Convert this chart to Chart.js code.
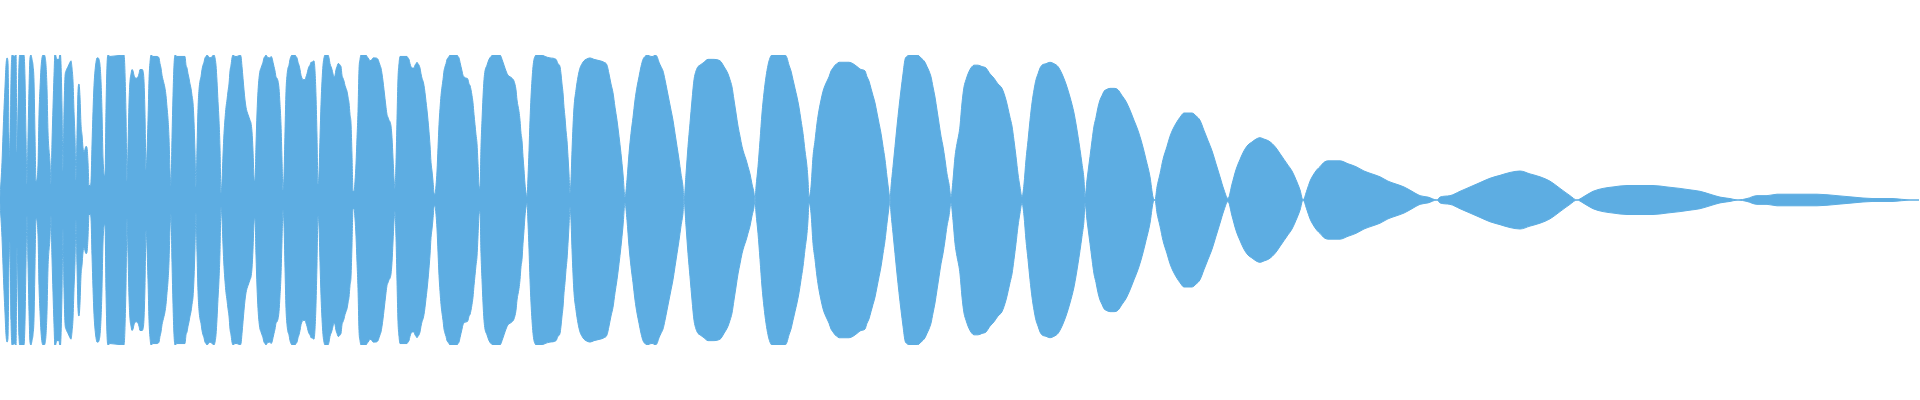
<!DOCTYPE html>
<html>
<head>
  <meta charset="utf-8">
  <title>Waveform</title>
  <script src="https://cdn.jsdelivr.net/npm/chart.js"></script>
  <style>
    html, body { margin: 0; padding: 0; background: #fff; }
    #wrap { width: 1920px; height: 400px; position: relative; }
  </style>
</head>
<body>
  <div id="wrap"><canvas id="wave"></canvas></div>

  <script>
    // sample position along the clip (10 per row, rows match envelope below)
    const t = [
      0,1,2,3,4,5,6,7,8,9,
      10,11,12,15,16,17,19,20,24,25,
      26,27,28,29,30,31,32,33,34,35,
      36,38,39,40,41,42,43,44,45,46,
      47,48,50,51,52,53,54,55,56,57,
      59,60,61,62,63,64,65,66,68,70,
      71,72,73,74,75,76,77,78,79,80,
      81,82,83,84,86,87,88,89,90,91,
      92,93,94,95,96,97,98,99,100,101,
      102,103,105,106,107,108,110,124,126,127,
      128,129,130,131,132,133,134,136,138,139,
      140,142,143,144,145,146,148,149,150,151,
      153,157,159,160,161,162,163,165,166,167,
      168,169,170,171,172,173,174,175,177,180,
      185,186,187,188,189,190,191,192,193,194,
      195,196,197,198,199,200,201,202,203,204,
      205,206,207,210,214,215,216,217,218,219,
      220,221,222,223,224,225,226,227,228,229,
      230,231,232,233,235,237,240,241,242,243,
      244,245,246,247,248,249,250,251,252,253,
      254,255,256,257,258,259,260,261,262,263,
      264,265,266,267,269,270,271,272,273,274,
      275,276,277,278,279,280,281,282,283,284,
      285,286,287,288,289,290,291,292,295,296,
      297,298,299,300,301,302,303,305,306,307,
      308,309,310,311,312,314,315,316,317,318,
      319,320,321,322,323,324,325,328,329,330,
      331,332,333,334,335,336,337,338,339,340,
      341,342,343,344,345,346,347,348,349,350,
      351,352,353,354,355,356,357,358,359,360,
      361,366,367,368,369,370,372,373,375,378,
      379,380,381,382,383,384,385,386,387,388,
      389,390,391,392,393,394,395,396,397,398,
      399,400,407,408,409,410,411,412,413,414,
      415,416,417,418,419,420,421,422,423,424,
      425,426,427,428,429,430,431,432,433,434,
      435,436,437,438,439,440,441,442,443,444,
      445,446,447,448,449,450,457,458,459,460,
      461,462,463,464,466,467,468,469,470,471,
      472,473,474,475,476,477,478,479,480,481,
      482,483,484,485,487,489,491,493,500,501,
      502,504,506,508,510,512,514,516,517,519,
      520,521,522,523,524,525,526,527,528,529,
      530,531,532,533,534,535,536,538,542,545,
      550,556,558,560,561,562,563,564,565,566,
      567,568,569,570,571,572,573,574,576,578,
      580,582,584,586,590,594,600,604,607,609,
      611,613,615,617,619,621,623,625,627,629,
      631,633,635,637,639,641,643,645,647,651,
      653,655,657,659,661,663,665,667,669,671,
      673,675,677,679,681,683,684,686,688,690,
      692,694,696,698,700,704,708,712,720,724,
      728,730,732,734,736,738,740,742,744,746,
      748,750,752,754,755,756,758,760,762,764,
      766,768,770,772,782,785,787,789,791,793,
      795,797,799,801,803,805,807,808,809,811,
      813,815,817,819,821,823,825,827,829,831,
      833,835,837,839,841,849,853,857,861,865,
      867,869,871,873,875,877,879,881,883,885,
      887,889,890,891,893,895,897,899,901,903,
      905,907,909,913,917,921,925,927,929,931,
      933,935,937,939,941,943,945,947,949,951,
      953,955,957,959,960,962,964,966,968,970,
      972,974,978,982,986,990,994,998,1002,1006,
      1010,1012,1014,1016,1018,1020,1022,1024,1026,1028,
      1030,1032,1034,1036,1038,1040,1042,1046,1050,1054,
      1058,1062,1066,1070,1074,1078,1082,1084,1085,1087,
      1090,1092,1094,1096,1098,1100,1102,1104,1106,1110,
      1114,1118,1122,1126,1130,1134,1138,1142,1146,1150,
      1153,1155,1157,1160,1163,1167,1170,1173,1177,1180,
      1184,1188,1192,1196,1200,1204,1208,1212,1216,1220,
      1224,1228,1232,1236,1240,1244,1248,1252,1256,1260,
      1264,1268,1272,1276,1280,1284,1288,1292,1296,1300,
      1303,1307,1310,1313,1317,1320,1324,1328,1332,1340,
      1348,1356,1364,1372,1380,1388,1396,1404,1412,1420,
      1428,1437,1440,1450,1460,1470,1480,1490,1500,1510,
      1520,1530,1540,1550,1560,1570,1577,1583,1593,1603,
      1613,1627,1640,1653,1667,1680,1690,1700,1710,1720,
      1730,1738,1747,1757,1767,1777,1797,1817,1837,1853,
      1873,1893,1910,1919
    ];

    // peak amplitude at each position, mirrored above and below zero
    const envelope = [
      0.02,0.13,0.26,0.45,0.63,0.78,0.93,0.98,0.95,0.45,
      0.29,0.83,1.00,0.99,1.02,0.33,0.94,1.01,1.00,0.84,
      0.43,0.11,0.43,0.77,0.98,1.00,0.97,0.93,0.82,0.45,
      0.13,0.24,0.59,0.77,0.91,0.98,1.00,1.00,0.99,0.93,
      0.77,0.47,0.26,0.11,0.40,0.64,0.86,1.02,0.99,0.97,
      0.97,1.02,0.94,0.64,0.20,0.61,0.85,0.89,0.92,0.95,
      0.96,0.91,0.82,0.61,0.43,0.14,0.45,0.75,0.80,0.71,
      0.52,0.45,0.36,0.33,0.37,0.36,0.26,0.10,0.10,0.13,
      0.38,0.61,0.79,0.89,0.95,0.98,0.98,0.97,0.93,0.82,
      0.61,0.29,0.17,0.63,0.93,1.00,0.99,1.00,0.59,0.13,
      0.37,0.67,0.82,0.87,0.90,0.89,0.86,0.84,0.85,0.87,
      0.90,0.90,0.89,0.82,0.59,0.21,0.55,0.83,0.95,1.00,
      0.99,0.99,0.98,0.94,0.91,0.86,0.83,0.77,0.72,0.64,
      0.56,0.43,0.20,0.10,0.43,0.72,0.93,1.00,0.99,0.99,
      0.99,0.93,0.91,0.87,0.84,0.80,0.77,0.72,0.67,0.54,
      0.33,0.09,0.36,0.63,0.76,0.82,0.85,0.90,0.93,0.95,
      0.98,0.99,1.00,0.98,1.00,0.98,0.93,0.82,0.68,0.55,
      0.36,0.05,0.13,0.31,0.46,0.56,0.64,0.69,0.75,0.80,
      0.89,0.93,0.98,1.00,0.99,0.99,1.00,0.99,0.92,0.84,
      0.76,0.69,0.64,0.61,0.59,0.57,0.55,0.53,0.47,0.34,
      0.16,0.13,0.38,0.60,0.75,0.84,0.89,0.91,0.93,0.95,
      0.98,0.99,1.00,0.99,0.98,0.98,0.99,0.98,0.95,0.92,
      0.89,0.85,0.84,0.82,0.77,0.66,0.52,0.28,0.07,0.17,
      0.47,0.75,0.86,0.91,0.93,0.97,0.99,1.00,1.00,0.99,
      0.98,0.95,0.93,0.90,0.86,0.84,0.83,0.83,0.85,0.87,
      0.90,0.92,0.93,0.95,0.95,0.96,0.89,0.72,0.44,0.11,
      0.18,0.43,0.66,0.82,0.93,0.98,1.00,1.00,0.98,0.94,
      0.92,0.90,0.87,0.85,0.86,0.90,0.92,0.94,0.94,0.93,
      0.92,0.86,0.84,0.82,0.79,0.77,0.75,0.71,0.67,0.59,
      0.53,0.31,0.06,0.06,0.13,0.25,0.43,0.61,0.90,0.97,
      1.00,1.00,0.99,0.98,0.97,0.96,0.97,0.98,0.98,0.97,
      0.95,0.93,0.91,0.87,0.82,0.76,0.70,0.64,0.59,0.57,
      0.55,0.54,0.51,0.43,0.29,0.15,0.08,0.26,0.56,0.84,
      0.94,0.99,0.99,0.98,0.97,0.94,0.92,0.91,0.91,0.91,
      0.93,0.94,0.95,0.94,0.93,0.91,0.87,0.84,0.82,0.79,
      0.74,0.68,0.62,0.55,0.47,0.38,0.26,0.20,0.13,0.05,
      0.04,0.10,0.20,0.36,0.52,0.63,0.72,0.78,0.83,0.89,
      0.92,0.94,0.97,0.98,0.99,1.00,1.00,0.99,0.98,0.95,
      0.92,0.89,0.86,0.85,0.84,0.84,0.83,0.80,0.79,0.76,
      0.72,0.67,0.59,0.52,0.45,0.39,0.25,0.10,0.08,0.37,
      0.55,0.71,0.83,0.89,0.93,0.97,0.99,1.00,1.00,0.99,
      0.97,0.93,0.89,0.86,0.85,0.84,0.82,0.76,0.69,0.61,
      0.55,0.46,0.41,0.30,0.21,0.11,0.05,0.02,0.16,0.34,
      0.55,0.71,0.83,0.92,0.97,0.99,1.00,1.00,1.00,0.99,
      0.98,0.97,0.94,0.92,0.87,0.80,0.74,0.64,0.57,0.48,
      0.41,0.30,0.18,0.05,0.14,0.34,0.51,0.64,0.76,0.85,
      0.91,0.94,0.96,0.97,0.98,0.97,0.96,0.95,0.93,0.87,
      0.80,0.74,0.64,0.55,0.44,0.32,0.18,0.02,0.14,0.32,
      0.46,0.57,0.69,0.78,0.85,0.92,0.97,0.99,1.00,0.99,
      0.99,1.00,0.99,0.95,0.92,0.89,0.83,0.76,0.69,0.62,
      0.55,0.46,0.37,0.28,0.18,0.09,0.00,0.18,0.37,0.53,
      0.69,0.83,0.89,0.92,0.93,0.95,0.97,0.97,0.96,0.92,
      0.87,0.83,0.78,0.69,0.60,0.51,0.44,0.37,0.32,0.28,
      0.23,0.18,0.11,0.05,0.00,0.09,0.23,0.41,0.60,0.74,
      0.85,0.93,0.98,1.00,1.00,1.00,0.98,0.93,0.89,0.83,
      0.77,0.71,0.64,0.55,0.46,0.34,0.23,0.14,0.02,0.09,
      0.30,0.41,0.53,0.62,0.69,0.75,0.79,0.82,0.85,0.89,
      0.91,0.93,0.94,0.95,0.95,0.95,0.94,0.92,0.90,0.89,
      0.85,0.82,0.77,0.72,0.67,0.60,0.53,0.46,0.37,0.28,
      0.16,0.05,0.00,0.09,0.23,0.37,0.51,0.64,0.76,0.87,
      0.97,0.99,1.00,1.00,1.00,0.98,0.95,0.92,0.89,0.85,
      0.78,0.71,0.62,0.53,0.44,0.37,0.28,0.18,0.11,0.02,
      0.14,0.30,0.39,0.46,0.51,0.67,0.78,0.83,0.87,0.90,
      0.92,0.93,0.93,0.92,0.91,0.87,0.84,0.80,0.77,0.69,
      0.57,0.51,0.41,0.30,0.18,0.09,0.02,0.11,0.28,0.41,
      0.55,0.67,0.76,0.83,0.87,0.91,0.93,0.94,0.95,0.94,
      0.92,0.87,0.80,0.71,0.60,0.44,0.25,0.14,0.02,0.14,
      0.30,0.41,0.51,0.57,0.64,0.69,0.72,0.75,0.76,0.77,
      0.77,0.76,0.72,0.68,0.62,0.55,0.48,0.39,0.28,0.16,
      0.02,0.00,0.09,0.18,0.28,0.37,0.44,0.49,0.54,0.57,
      0.60,0.60,0.60,0.58,0.55,0.48,0.41,0.34,0.25,0.16,
      0.07,0.01,0.11,0.21,0.28,0.34,0.38,0.40,0.42,0.43,
      0.42,0.41,0.39,0.36,0.32,0.28,0.24,0.20,0.14,0.07,
      0.00,0.07,0.13,0.17,0.21,0.23,0.26,0.27,0.27,0.27,
      0.25,0.23,0.20,0.18,0.16,0.13,0.11,0.09,0.06,0.03,
      0.02,0.00,0.02,0.03,0.06,0.09,0.12,0.15,0.17,0.19,
      0.20,0.18,0.16,0.13,0.08,0.03,0.00,0.02,0.06,0.08,
      0.09,0.10,0.10,0.10,0.09,0.08,0.07,0.06,0.04,0.02,
      0.01,0.00,0.01,0.03,0.03,0.04,0.04,0.04,0.03,0.02,
      0.01,0.01,0.00,0.00
    ];

    const upper = t.map((x, i) => ({ x: x, y: envelope[i] }));
    const lower = t.map((x, i) => ({ x: x, y: -envelope[i] }));

    const blue = '#5DADE2';
    const ctx = document.getElementById('wave').getContext('2d');
    const common = {
      backgroundColor: blue, borderColor: blue, borderWidth: 1,
      pointRadius: 0, fill: 'origin', cubicInterpolationMode: 'monotone'
    };
    new Chart(ctx, {
      type: 'line',
      data: {
        datasets: [
          { ...common, data: upper },
          { ...common, data: lower }
        ]
      },
      options: {
        responsive: true,
        maintainAspectRatio: false,
        animation: false,
        layout: { padding: { top: 55, bottom: 55, left: 0, right: 0 } },
        plugins: { legend: { display: false }, tooltip: { enabled: false } },
        scales: {
          x: { type: 'linear', min: 0, max: 1920, display: false },
          y: { min: -1, max: 1, display: false }
        }
      }
    });
  </script>
</body>
</html>
